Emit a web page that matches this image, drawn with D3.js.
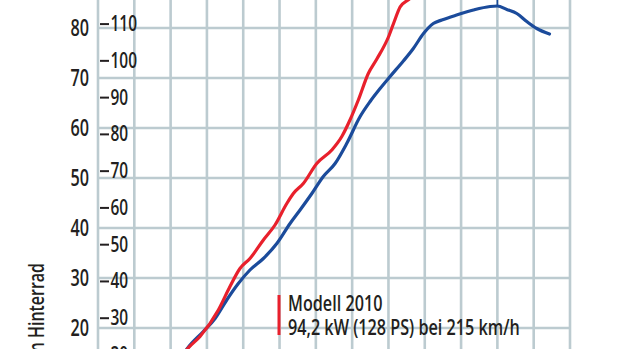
<!DOCTYPE html>
<html>
<head>
<meta charset="utf-8">
<script src="https://cdn.jsdelivr.net/npm/d3@7"></script>
<style>
  html, body { margin: 0; padding: 0; background: #fff; overflow: hidden; }
  svg { display: block; }
  text { font-family: "Open Sans", "Noto Sans", sans-serif; font-weight: 600; fill: #231f20; }
</style>
</head>
<body>
<svg id="chart" width="620" height="349"></svg>
<script>
// ---- data (speed in km/h, power in kW at the rear wheel) ----
const speedTicks = [0, 20, 40, 60, 80, 100, 120, 140, 160, 180, 200, 220, 240, 260];
const kwTicks = [10, 20, 30, 40, 50, 60, 70, 80, 90];
const psTicks = [10, 20, 30, 40, 50, 60, 70, 80, 90, 100, 110, 120];

const redSpeed = [47.5, 49.2, 56.2, 66.3, 72.7, 78.2, 83.7, 91.1, 97.5, 104.0, 107.6, 113.1, 120.5, 128.8, 134.3, 138.8, 143.4, 148.9, 153.6, 160.0, 163.1, 166.4, 170.8, 175.2];
const redKW    = [15.0, 15.8, 18.3, 23.6, 28.3, 31.9, 33.9, 37.6, 40.6, 44.9, 46.9, 48.9, 52.9, 55.6, 58.3, 61.6, 65.6, 70.9, 73.8, 78.2, 81.2, 84.2, 85.6, 86.8];

const blueSpeed = [47.5, 49.0, 58.0, 64.5, 70.9, 77.3, 83.7, 91.1, 98.5, 105.8, 111.3, 117.8, 124.1, 130.6, 137.0, 144.4, 149.9, 155.4, 160.9, 168.2, 173.7, 179.3, 184.7, 189.4, 197.6, 206.8, 216.0, 220.0, 225.2, 230.7, 236.2, 241.7, 248.7];
const blueKW    = [15.0, 15.8, 19.3, 21.9, 25.6, 28.9, 31.6, 33.9, 36.9, 40.9, 43.6, 46.9, 50.3, 52.9, 56.9, 62.3, 65.3, 67.9, 70.3, 73.4, 75.9, 78.9, 80.9, 81.6, 82.6, 83.6, 84.3, 84.4, 83.7, 82.9, 81.3, 79.9, 78.8];

const legendLines = ["Modell 2010", "94,2 kW (128 PS) bei 215 km/h"];
const axisTitle = "Leistung in kW am Hinterrad";
const KW_TO_PS = 1.36;

// ---- scales ----
const W = 620, H = 349;
const svg = d3.select("#chart");
const x = d3.scaleLinear().domain([0, 260]).range([98, 570]);
const y = d3.scaleLinear().domain([80, 20]).range([28, 328]);
const yPS = d3.scaleLinear().domain(y.domain().map(d => d * KW_TO_PS)).range(y.range());

const gridColor = "#bccbd0";
function condense(k) {
  return sel => sel.each(function () {
    const w = this.getComputedTextLength();
    d3.select(this).attr("textLength", w * k).attr("lengthAdjust", "spacingAndGlyphs");
  });
}

// ---- grid ----
const grid = svg.append("g");
grid.selectAll("line.v").data(speedTicks).join("line")
  .attr("x1", d => x(d)).attr("x2", d => x(d))
  .attr("y1", 0).attr("y2", H)
  .attr("stroke", gridColor).attr("stroke-width", 2.6);
grid.selectAll("line.h").data(kwTicks).join("line")
  .attr("x1", x(0) - 1).attr("x2", x(260) + 1)
  .attr("y1", d => y(d)).attr("y2", d => y(d))
  .attr("stroke", gridColor).attr("stroke-width", 2.6);

// ---- curves ----
const line = d3.line().x(d => x(d[0])).y(d => y(d[1])).curve(d3.curveMonotoneX);
const redData = redSpeed.map((s, i) => [s, redKW[i]]);
const blueData = blueSpeed.map((s, i) => [s, blueKW[i]]);

svg.append("path").datum(blueData)
  .attr("d", line).attr("fill", "none")
  .attr("stroke", "#1b4b9b").attr("stroke-width", 3.2)
  .attr("stroke-linejoin", "round").attr("stroke-linecap", "round");
svg.append("path").datum(redData)
  .attr("d", line).attr("fill", "none")
  .attr("stroke", "#e8202c").attr("stroke-width", 3.2)
  .attr("stroke-linejoin", "round").attr("stroke-linecap", "round");

// peak pointer on blue curve
const peak = blueData.reduce((a, b) => (b[1] > a[1] ? b : a));
svg.append("line")
  .attr("x1", x(peak[0])).attr("x2", x(peak[0]))
  .attr("y1", y(peak[1])).attr("y2", -5)
  .attr("stroke", "#1b4b9b").attr("stroke-width", 1.5);

// ---- left axis (kW) ----
const leftAxis = svg.append("g")
  .attr("transform", `translate(89,0)`)
  .call(d3.axisLeft(y).tickValues(kwTicks).tickSize(0).tickPadding(0));
leftAxis.select(".domain").remove();
leftAxis.selectAll("text")
  .attr("font-size", 22.5).attr("fill", "#231f20")
  .attr("font-family", "Open Sans, Noto Sans, sans-serif").attr("font-weight", 500)
  .call(condense(0.72));

// ---- second axis (PS) ----
const psAxis = svg.append("g")
  .attr("transform", `translate(100,0)`)
  .call(d3.axisRight(yPS).tickValues(psTicks).tickSize(9).tickPadding(1.5));
psAxis.select(".domain").remove();
psAxis.selectAll("line").attr("stroke", "#231f20").attr("stroke-width", 2);
psAxis.selectAll("text")
  .attr("font-size", 21.5).attr("fill", "#231f20")
  .attr("font-family", "Open Sans, Noto Sans, sans-serif").attr("font-weight", 500)
  .call(condense(0.72));

// ---- axis title ----
svg.append("text")
  .attr("transform", "translate(44,263) rotate(-90)")
  .attr("text-anchor", "end")
  .attr("font-size", 21)
  .attr("font-weight", 500)
  .text(axisTitle)
  .call(condense(0.76));

// ---- legend ----
svg.append("rect")
  .attr("x", 277.5).attr("y", 295).attr("width", 3).attr("height", 40)
  .attr("fill", "#e8202c");
svg.append("g").selectAll("text").data(legendLines).join("text")
  .attr("x", 288)
  .attr("y", (d, i) => 311 + i * 23.5)
  .attr("font-size", 21.3)
  .text(d => d)
  .call(condense(0.76));
</script>
</body>
</html>
